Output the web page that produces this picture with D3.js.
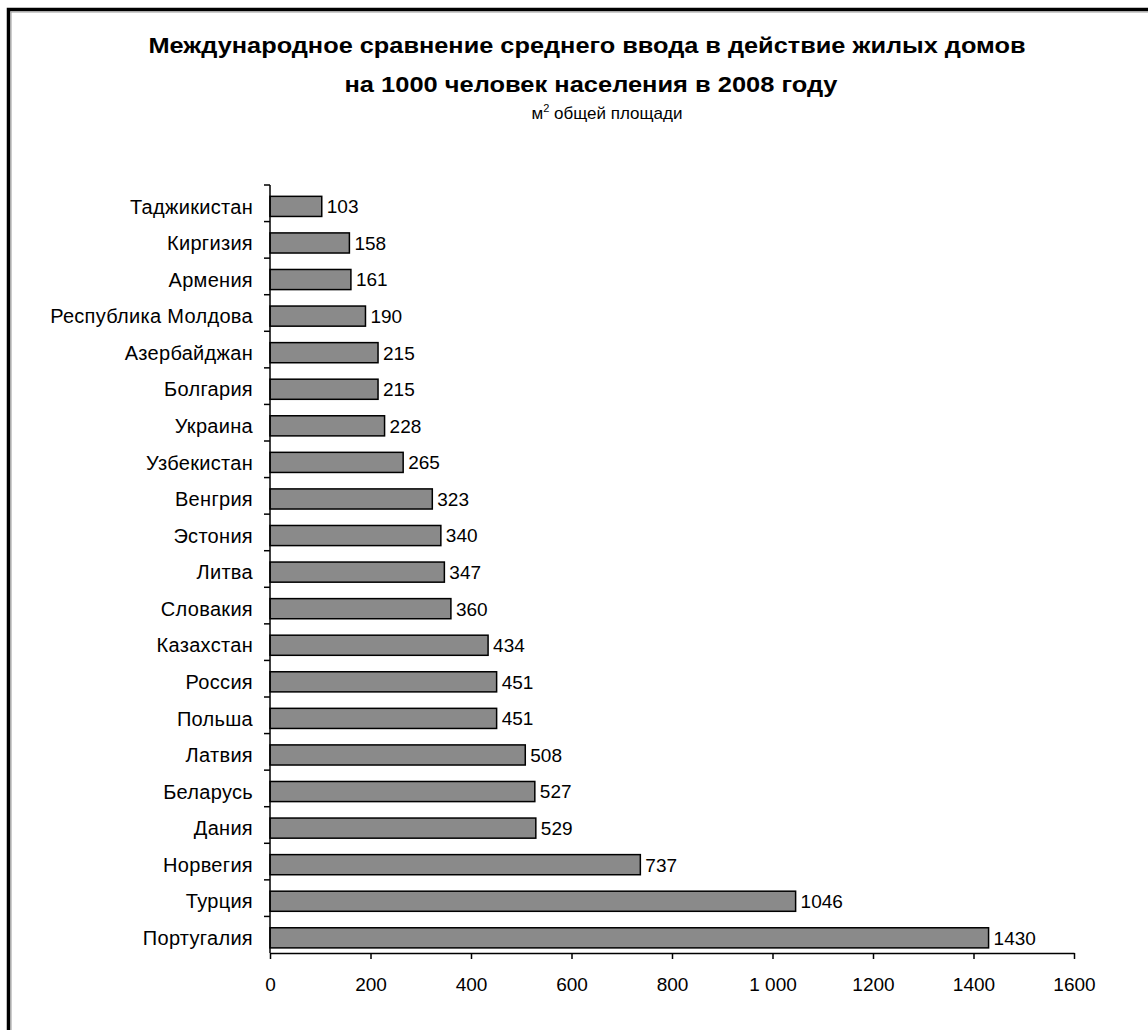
<!DOCTYPE html>
<html lang="ru">
<head>
    <meta charset="UTF-8">
    <title>Ввод в действие жилых домов</title>
    <script src="https://cdn.jsdelivr.net/npm/d3@7/dist/d3.min.js"></script>
    <style>
        body { margin: 0; background: #fff; }
        svg { display: block; font-family: Arial, "Liberation Sans", sans-serif; }
        .bars rect { fill: #8a8a8a; stroke: #000; stroke-width: 1.5px; }
        .axis path, .axis line { stroke: #000; stroke-width: 1.5px; }
        .axis text { fill: #000; }
    </style>
</head>
<body>
<script>
    // страны (сверху вниз) и значения, м2 на 1000 человек
    const countries = [
        'Таджикистан', 'Киргизия', 'Армения', 'Республика Молдова', 'Азербайджан',
        'Болгария', 'Украина', 'Узбекистан', 'Венгрия', 'Эстония', 'Литва',
        'Словакия', 'Казахстан', 'Россия', 'Польша', 'Латвия', 'Беларусь',
        'Дания', 'Норвегия', 'Турция', 'Португалия'
    ];
    const values = [
        103, 158, 161, 190, 215, 215, 228, 265, 323, 340, 347,
        360, 434, 451, 451, 508, 527, 529, 737, 1046, 1430
    ];
    const xTicks = [0, 200, 400, 600, 800, 1000, 1200, 1400, 1600];
    const xTickLabels = ['0', '200', '400', '600', '800', '1 000', '1200', '1400', '1600'];

    const titleLines = [
        'Международное сравнение среднего ввода в действие жилых домов',
        'на 1000 человек населения в 2008 году'
    ];

    const width = 1148;
    const height = 1030;
    const margin = { top: 185, left: 270, right: 74, bottom: 77 };

    const data = countries.map((c, i) => ({ name: c, value: values[i] }));

    let svg = d3.select('body')
        .append('svg')
        .attr('width', width)
        .attr('height', height);

    // рамка (видны только верхняя и левая стороны)
    svg.append('path')
        .attr('d', 'M8.5,1030 V9.5 H1148')
        .attr('fill', 'none')
        .attr('stroke', '#000')
        .attr('stroke-width', 3.5);
    svg.append('path')
        .attr('d', 'M11,1030 V12 H1148')
        .attr('fill', 'none')
        .attr('stroke', '#999')
        .attr('stroke-width', 1);

    // заголовок
    svg.append('text')
        .attr('x', 587).attr('y', 53)
        .attr('text-anchor', 'middle')
        .attr('font-weight', 'bold')
        .attr('font-size', 22)
        .attr('textLength', 877)
        .attr('lengthAdjust', 'spacingAndGlyphs')
        .text(titleLines[0]);
    svg.append('text')
        .attr('x', 591).attr('y', 92)
        .attr('text-anchor', 'middle')
        .attr('font-weight', 'bold')
        .attr('font-size', 22)
        .attr('textLength', 493)
        .attr('lengthAdjust', 'spacingAndGlyphs')
        .text(titleLines[1]);
    let sub = svg.append('text')
        .attr('x', 607).attr('y', 119)
        .attr('text-anchor', 'middle')
        .attr('font-size', 17);
    sub.append('tspan').text('м');
    sub.append('tspan').attr('dy', -7).attr('font-size', 11).text('2');
    sub.append('tspan').attr('dy', 7).text(' общей площади');

    // шкалы
    const x = d3.scaleLinear()
        .domain([0, 1600])
        .range([margin.left, width - margin.right]);

    const y = d3.scaleBand()
        .domain(countries)
        .range([margin.top, height - margin.bottom])
        .padding(0);

    const barH = y.bandwidth() * 0.55;
    const barOff = y.bandwidth() * 0.31;

    // столбцы
    svg.append('g')
        .attr('class', 'bars')
        .selectAll('rect')
        .data(data)
        .enter()
        .append('rect')
        .attr('x', x(0))
        .attr('y', d => y(d.name) + barOff)
        .attr('width', d => x(d.value) - x(0))
        .attr('height', barH);

    // подписи значений
    svg.append('g')
        .selectAll('text')
        .data(data)
        .enter()
        .append('text')
        .attr('x', d => x(d.value) + 5)
        .attr('y', d => y(d.name) + barOff + barH / 2)
        .attr('dy', '0.36em')
        .attr('font-size', 19)
        .text(d => d.value);

    // ось Y: метки между категориями
    let yAxis = svg.append('g').attr('class', 'axis');
    yAxis.append('line')
        .attr('x1', x(0)).attr('x2', x(0))
        .attr('y1', margin.top).attr('y2', height - margin.bottom);
    yAxis.selectAll('.tick')
        .data(countries)
        .enter()
        .append('line')
        .attr('x1', x(0) - 6).attr('x2', x(0))
        .attr('y1', d => y(d)).attr('y2', d => y(d));
    yAxis.selectAll('.lbl')
        .data(countries)
        .enter()
        .append('text')
        .attr('x', x(0) - 17)
        .attr('y', d => y(d) + barOff + barH / 2)
        .attr('dy', '0.36em')
        .attr('text-anchor', 'end')
        .attr('font-size', 20)
        .attr('letter-spacing', 0.3)
        .text(d => d);

    // ось X
    svg.append('g')
        .attr('class', 'axis')
        .attr('transform', `translate(0,${height - margin.bottom})`)
        .call(d3.axisBottom(x)
            .tickValues(xTicks)
            .tickSize(6)
            .tickSizeOuter(0)
            .tickPadding(19)
            .tickFormat((d, i) => xTickLabels[i]))
        .call(g => g.selectAll('text').attr('font-size', 19).attr('font-family', null));
</script>
</body>
</html>
